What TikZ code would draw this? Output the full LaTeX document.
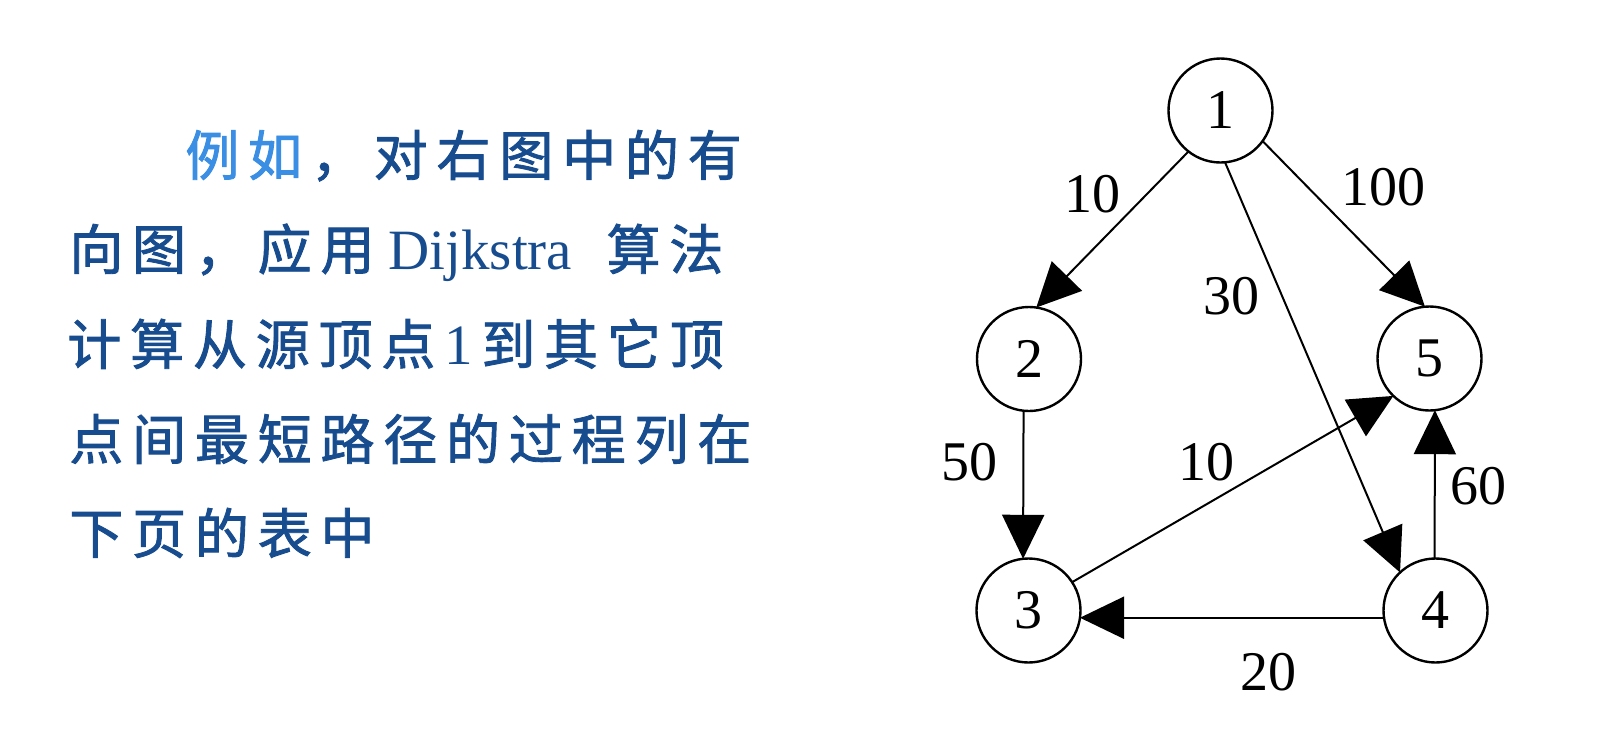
\documentclass[tikz,border=0pt]{standalone}
\usepackage{fontspec}
\setmainfont{Liberation Serif}
\newfontfamily\cjk[FakeBold=1.6]{Noto Sans CJK SC}
\usetikzlibrary{arrows.meta}
\definecolor{txtblue}{RGB}{23,76,143}
\definecolor{hiblue}{RGB}{58,142,228}
\newcommand\cw[1]{\makebox[31.4pt][l]{#1}}
\newcommand\latn{\mdseries\rmfamily\fontsize{28.5}{28.5}\selectfont}
\begin{document}
\begin{tikzpicture}[x=0.5pt,y=-0.5pt,
  vtx/.style={circle,draw,line width=1.2pt,minimum size=52pt,inner sep=0pt,outer sep=0pt,font=\fontsize{28}{28}\selectfont},
  lbl/.style={inner sep=0pt,font=\fontsize{28}{28}\selectfont},
  edge/.style={line width=1pt,-{Triangle[length=22pt,width=21pt]}},
  txt/.style={anchor=base west,inner sep=0pt,text=txtblue,font=\cjk\fontsize{27}{27}\selectfont}]
\fill[white] (0,0) rectangle (1613,750);
\useasboundingbox (0,0) rectangle (1613,750);

% text block
\node[txt] (t1) at (185,175.5) {\textcolor{hiblue}{\cw{例}\cw{如}}\cw{，}\cw{对}\cw{右}\cw{图}\cw{中}\cw{的}有};
\node[txt] (t2) at (69,269.5) {\cw{向}\cw{图}\cw{，}\cw{应}\makebox[34pt][l]{用}\makebox[109pt][l]{\latn Dijkstra}\cw{算}法};
\node[txt] (t3) at (67,364.5) {\cw{计}\cw{算}\cw{从}\cw{源}\cw{顶}\makebox[31.5pt][l]{点}\makebox[18.5pt][l]{\latn 1}\cw{到}\cw{其}\cw{它}顶};
\node[txt] (t4) at (69,459.5) {\cw{点}\cw{间}\cw{最}\cw{短}\cw{路}\cw{径}\cw{的}\cw{过}\cw{程}\cw{列}在};
\node[txt] (t5) at (69,553.5) {\cw{下}\cw{页}\cw{的}\cw{表}中};

% graph
\node[vtx] (n1) at (1220.5,110.5) {1};
\node[vtx] (n2) at (1029,359) {2};
\node[vtx] (n5) at (1429.5,358.5) {5};
\node[vtx] (n3) at (1028.5,610.5) {3};
\node[vtx] (n4) at (1435.5,610.5) {4};

\draw[edge] (n1.232) -- (n2.82);
\draw[edge] (n1.275) -- (n4.133);
\draw[edge] (n1.324) -- (n5.95);
\draw[edge] (n2.264) -- (n3.96);
\draw[edge] (n3.33) -- (n5.226);
\draw[edge] (n4.188) -- (n3.352);
\draw[edge] (n4.91) -- (n5.276);

\node[lbl] (l12) at (1092,194) {10};
\node[lbl] (l15) at (1383,187.5) {100};
\node[lbl] (l14) at (1231,296) {30};
\node[lbl] (l23) at (969,462) {50};
\node[lbl] (l35) at (1206,462) {10};
\node[lbl] (l45) at (1478,486) {60};
\node[lbl] (l43) at (1268,672) {20};
\end{tikzpicture}
\end{document}
